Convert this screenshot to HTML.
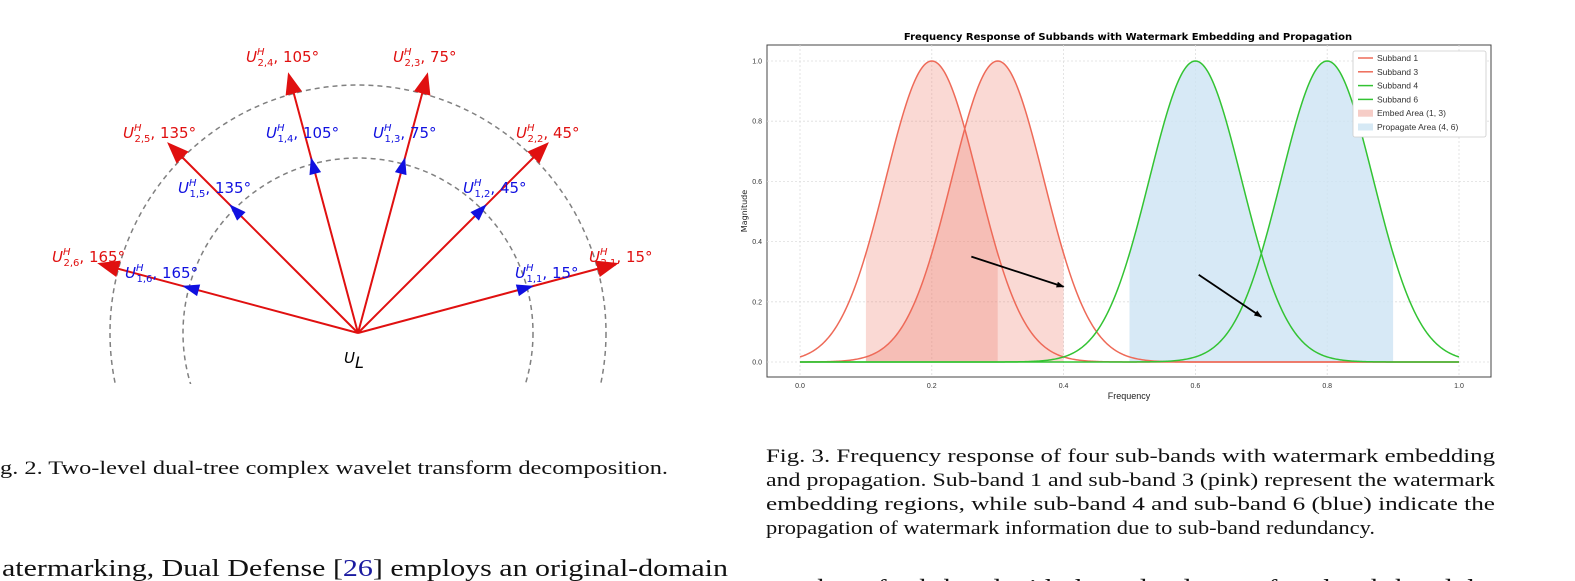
<!DOCTYPE html>
<html><head><meta charset="utf-8"><style>
html,body{margin:0;padding:0;background:#fff;width:1575px;height:581px;overflow:hidden}
svg{display:block}
.lab{font-family:"DejaVu Sans","Liberation Sans",sans-serif;font-size:15px}
.tk{font-family:"Liberation Sans",sans-serif;font-size:7px;fill:#333}
</style></head><body>
<svg id="page" width="1575" height="581" viewBox="0 0 1575 581" xmlns="http://www.w3.org/2000/svg">
<g id="diagram"></g>
<g id="chart"></g>
<g font-family="Liberation Serif, serif" fill="#111">
<text x="0" y="474" font-size="19" textLength="668" lengthAdjust="spacingAndGlyphs">g. 2.  Two-level dual-tree complex wavelet transform decomposition.</text>
<text x="2" y="576" font-size="24" textLength="726" lengthAdjust="spacingAndGlyphs">atermarking, Dual Defense [<tspan fill="#1a1aa0">26</tspan>] employs an original-domain</text>
<g font-size="19">
<text x="766" y="462" textLength="729" lengthAdjust="spacingAndGlyphs">Fig. 3.  Frequency response of four sub-bands with watermark embedding</text>
<text x="766" y="486" textLength="729" lengthAdjust="spacingAndGlyphs">and propagation. Sub-band 1 and sub-band 3 (pink) represent the watermark</text>
<text x="766" y="510" textLength="729" lengthAdjust="spacingAndGlyphs">embedding regions, while sub-band 4 and sub-band 6 (blue) indicate the</text>
<text x="766" y="534" textLength="609" lengthAdjust="spacingAndGlyphs">propagation of watermark information due to sub-band redundancy.</text>
</g>
<text x="766" y="596" font-size="24" textLength="729" lengthAdjust="spacingAndGlyphs">number of sub-band with the redundancy of each sub-band the</text>
</g>
</svg>
<script>
const NS="http://www.w3.org/2000/svg";
function mk(tag,attrs,parent){const e=document.createElementNS(NS,tag);for(const k in attrs)e.setAttribute(k,attrs[k]);parent.appendChild(e);return e;}

// ---- Diagram ----
const angles=[15,45,75,105,135,165];
const dg=document.getElementById('diagram');
const ox=358, oy=333, rIn=175, rOut=248, rTip=270, rBlue=182;
const clip=mk('clipPath',{id:'arcclip'},dg);
mk('rect',{x:0,y:0,width:720,height:384},clip);
let c1=mk('circle',{cx:ox,cy:oy,r:rIn,fill:'none',stroke:'#808080','stroke-width':1.5,'stroke-dasharray':'5,4','clip-path':'url(#arcclip)'},dg);


let c2=mk('circle',{cx:ox,cy:oy,r:rOut,fill:'none',stroke:'#808080','stroke-width':1.5,'stroke-dasharray':'5,4','clip-path':'url(#arcclip)'},dg);


function head(r,a,len,w,col){const t=a*Math.PI/180,ux=Math.cos(t),uy=-Math.sin(t),px=-uy,py=ux;
 const tx=ox+ux*r,ty=oy+uy*r,bx=tx-ux*len,by=ty-uy*len;
 return mk('polygon',{points:`${tx},${ty} ${bx+px*w/2},${by+py*w/2} ${bx-px*w/2},${by-py*w/2}`,fill:col},dg);}
angles.forEach((a,i)=>{const t=a*Math.PI/180;
 const l=mk('line',{x1:ox,y1:oy,x2:ox+Math.cos(t)*(rTip-14),y2:oy-Math.sin(t)*(rTip-14),stroke:'#e01010','stroke-width':2},dg);
 
 
 const h=head(rTip,a,22,17,'#e01010');
 
 
 const b=head(rBlue,a,17,12,'#1010e0');
 
 
});
const labels=[
 [246,62,'2,4','105°','#e01010'],[393,62,'2,3','75°','#e01010'],[123,138,'2,5','135°','#e01010'],[516,138,'2,2','45°','#e01010'],[52,262,'2,6','165°','#e01010'],[589,262,'2,1','15°','#e01010'],
 [266,138,'1,4','105°','#1010e0'],[373,138,'1,3','75°','#1010e0'],[178,193,'1,5','135°','#1010e0'],[463,193,'1,2','45°','#1010e0'],[125,278,'1,6','165°','#1010e0'],[515,278,'1,1','15°','#1010e0']];
labels.forEach(L=>{const t=mk('text',{x:L[0],y:L[1],fill:L[4],class:'lab'},dg);
 
 
 t.innerHTML=`<tspan font-style="italic">U</tspan><tspan font-size="10" font-style="italic" dy="-7">H</tspan><tspan font-size="10" dx="-7" dy="11">${L[2]}</tspan><tspan dy="-4">, ${L[3]}</tspan>`;});
const ul=mk('text',{x:344,y:363,class:'lab','font-size':24,fill:'#000'},dg);


ul.innerHTML='<tspan font-style="italic">U</tspan><tspan font-size="16" font-style="italic" dy="5">L</tspan>';

// ---- Chart ----
const centers=[0.2,0.3,0.6,0.8];
const seriesNames=['Subband 1','Subband 3','Subband 4','Subband 6'];
const sigma=[0.07,0.07,0.07,0.07];
const xTicks=[0,0.2,0.4,0.6,0.8,1.0];
const yTicks=[0,0.2,0.4,0.6,0.8,1.0];
const embedRange=[0.1,0.3,0.4];
const propRange=[0.5,0.9];
const arrowData=[[0.26,0.35,0.4,0.25],[0.605,0.29,0.7,0.15]];
const ch=document.getElementById('chart');
const X=v=>800+v*659, Y=v=>362-v*301;
const g=(x,i)=>Math.exp(-((x-centers[i])**2)/(2*sigma[i]**2));
mk('rect',{x:767,y:45,width:724,height:332,fill:'#fff',stroke:'#444','stroke-width':1},ch);
xTicks.forEach(v=>{const l=mk('line',{x1:X(v),x2:X(v),y1:45,y2:377,stroke:'#ddd','stroke-width':0.8,'stroke-dasharray':'2,2'},ch);
 
 
 const t=mk('text',{x:X(v),y:388,class:'tk','text-anchor':'middle'},ch);t.textContent=v.toFixed(1);
 
 });
yTicks.forEach(v=>{const l=mk('line',{x1:767,x2:1491,y1:Y(v),y2:Y(v),stroke:'#ddd','stroke-width':0.8,'stroke-dasharray':'2,2'},ch);
 
 
 const t=mk('text',{x:762,y:Y(v)+2.5,class:'tk','text-anchor':'end'},ch);t.textContent=v.toFixed(1);
 
 });
function area(a,b,f){let d=`M${X(a)},${Y(0)}`;for(let x=a;x<=b+1e-9;x+=0.002)d+=` L${X(x)},${Y(f(x))}`;return d+` L${X(b)},${Y(0)}Z`;}
let p=mk('path',{d:area(embedRange[0],embedRange[1],x=>g(x,0)),fill:'#f08070','fill-opacity':0.3},ch);


p=mk('path',{d:area(embedRange[0],embedRange[2],x=>g(x,1)),fill:'#f08070','fill-opacity':0.3},ch);


p=mk('path',{d:area(propRange[0],propRange[1],x=>Math.max(g(x,2),g(x,3))),fill:'#cde4f4','fill-opacity':0.8},ch);


const cols=['#ee6a58','#ee6a58','#33c333','#33c333'];
centers.forEach((c,i)=>{let d='';for(let x=0;x<=1.0001;x+=0.002)d+=(d?' L':'M')+X(x)+','+Y(g(x,i));
 const l=mk('path',{d,fill:'none',stroke:cols[i],'stroke-width':1.5},ch);
 
 });
mk('defs',{},ch).innerHTML='<marker id="ah" markerWidth="8" markerHeight="6" refX="7" refY="3" orient="auto" markerUnits="userSpaceOnUse"><polygon points="0,0 8,3 0,6" fill="#000"/></marker>';
arrowData.forEach((a,i)=>{const l=mk('line',{x1:X(a[0]),y1:Y(a[1]),x2:X(a[2]),y2:Y(a[3]),stroke:'#000','stroke-width':1.8,'marker-end':'url(#ah)'},ch);
 
 });
let t=mk('text',{x:1128,y:40,'font-family':'DejaVu Sans,Liberation Sans,sans-serif','font-size':10,'font-weight':'bold','text-anchor':'middle'},ch);
t.textContent='Frequency Response of Subbands with Watermark Embedding and Propagation';


t=mk('text',{x:1129,y:399,'font-family':'Liberation Sans,sans-serif','font-size':9,'text-anchor':'middle',fill:'#222'},ch);
t.textContent='Frequency';


t=mk('text',{x:747,y:211,'font-family':'DejaVu Sans,sans-serif','font-size':8,'text-anchor':'middle',fill:'#222',transform:'rotate(-90 747 211)'},ch);
t.textContent='Magnitude';


const lg=mk('g',{},ch);


mk('rect',{x:1353,y:51,width:133,height:86,fill:'#fff',stroke:'#ccc','stroke-width':0.8,rx:2},lg);
const legNames=seriesNames.concat(['Embed Area (1, 3)','Propagate Area (4, 6)']);
legNames.forEach((n,i)=>{const y=58+i*13.8;
 if(i<4){mk('line',{x1:1358,x2:1373,y1:y,y2:y,stroke:cols[i],'stroke-width':1.5},lg);}
 else{mk('rect',{x:1358,y:y-3.5,width:15,height:7,fill:i==4?'#f6cdc7':'#d6e9f5'},lg);}
 const tt=mk('text',{x:1377,y:y+3,'font-family':'Liberation Sans,sans-serif','font-size':8.5,fill:'#333'},lg);tt.textContent=n;
 
 });
</script>
</body></html>
